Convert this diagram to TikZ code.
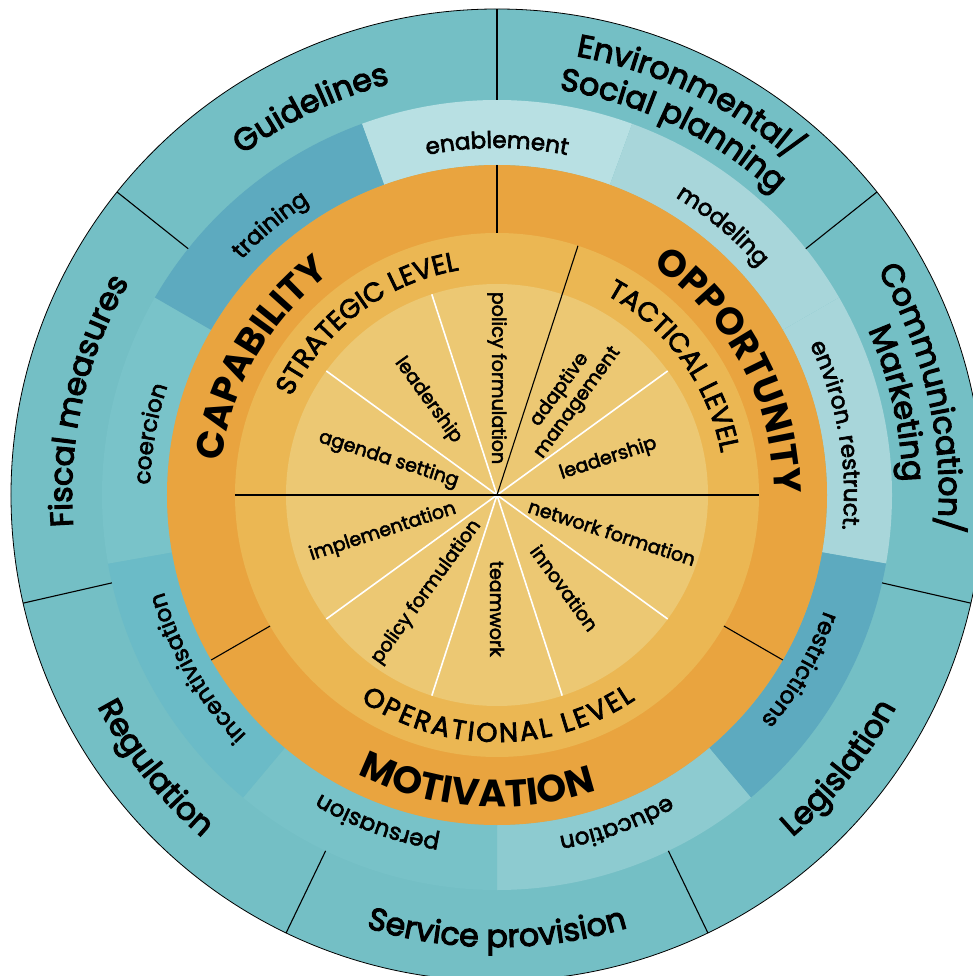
\documentclass[tikz,border=0pt]{standalone}
\usepackage{fontspec}
\setmainfont{Poppins}
\newfontfamily\medfont{Poppins}[FakeBold=3.5]
\newfontfamily\semifont{Poppins}[FakeBold=2.8]
\usetikzlibrary{decorations.text}

\definecolor{outerteal}{HTML}{74BFC5}
\definecolor{enablecol}{HTML}{B8E0E3}
\definecolor{modelcol}{HTML}{A8D6DA}
\definecolor{trainingcol}{HTML}{5DAABF}
\definecolor{coercecol}{HTML}{79C3C9}
\definecolor{incentcol}{HTML}{6BBBC7}
\definecolor{persuadecol}{HTML}{78C2C8}
\definecolor{educol}{HTML}{8DCBD0}
\definecolor{comborange}{HTML}{E9A43F}
\definecolor{levelcol}{HTML}{EBB753}
\definecolor{innercol}{HTML}{ECC873}

\tikzstyle{divider} = [black, line width=1.1pt]
\tikzstyle{spoke} = [white, line width=1.6pt]
\tikzstyle{inlabel} = [font=\semifont\fontsize{19}{22}\selectfont, inner sep=0pt, align=center]

\newcommand{\outerfont}{\medfont\fontsize{31.5}{31.5}\selectfont}
\newcommand{\midfont}{\semifont\fontsize{23}{23}\selectfont}
\newcommand{\combfont}{\fontsize{38}{38}\selectfont\bfseries}
\newcommand{\levelfont}{\semifont\fontsize{27}{27}\selectfont}

% ring piece: colour, start angle, end angle, inner radius, outer radius
\newcommand{\ringpart}[5]{\fill[#1] (#2:#4) arc[start angle=#2, end angle=#3, radius=#4] -- (#3:#5) arc[start angle=#3, end angle=#2, radius=#5] -- cycle;}
% curved labels: mid angle, baseline radius, font, text
\newcommand{\cwlabel}[4]{\path[decorate, decoration={text along path, text align=center, text={|#3|#4}}] (#1+70:#2) arc[start angle=#1+70, end angle=#1-70, radius=#2];}
\newcommand{\ccwlabel}[4]{\path[decorate, decoration={text along path, text align=center, text={|#3|#4}}] (#1-70:#2) arc[start angle=#1-70, end angle=#1+70, radius=#2];}

\begin{document}
\begin{tikzpicture}
        \useasboundingbox (-497pt,-481pt) rectangle (476pt,495pt);
        \clip (-497pt,-481pt) rectangle (476pt,495pt);
        \coordinate (hub) at (0,0);

        % Rings
        \draw[black, line width=0.8pt, fill=outerteal] (hub) circle[radius=486pt];
        \ringpart{enablecol}{70}{110}{330pt}{395pt}
        \ringpart{modelcol}{30}{70}{330pt}{395pt}
        \ringpart{modelcol}{-10}{30}{330pt}{395pt}
        \ringpart{trainingcol}{-50}{-10}{330pt}{395pt}
        \ringpart{educol}{-90}{-50}{330pt}{395pt}
        \ringpart{persuadecol}{-130}{-90}{330pt}{395pt}
        \ringpart{incentcol}{-170}{-130}{330pt}{395pt}
        \ringpart{coercecol}{150}{190}{330pt}{395pt}
        \ringpart{trainingcol}{110}{150}{330pt}{395pt}
        \fill[comborange] (hub) circle[radius=330pt];
        \fill[levelcol] (hub) circle[radius=262pt];
        \fill[innercol] (hub) circle[radius=211pt];

        % Lines
        \foreach \a in {36,108,144,216,252,288,324}
            \draw[spoke] (hub) -- (\a:211pt);
        \draw[divider] (180:262pt) -- (0:262pt);
        \draw[divider] (hub) -- (72:262pt);
        \foreach \a in {90,-30,210}
            \draw[divider] (\a:262pt) -- (\a:330pt);
        \foreach \k in {0,...,6}
            \draw[divider] (90+\k*360/7:395pt) -- (90+\k*360/7:486pt);

        % Outer labels
        \cwlabel{115.7}{425pt}{\outerfont}{Guidelines}
        \cwlabel{167.1}{425pt}{\outerfont}{Fiscal measures}
        \cwlabel{64.3}{446pt}{\outerfont}{Environmental/}
        \cwlabel{64.3}{410pt}{\outerfont}{Social planning}
        \cwlabel{12.9}{442pt}{\outerfont}{Communication/}
        \cwlabel{12.9}{406pt}{\outerfont}{Marketing}
        \ccwlabel{218.6}{452pt}{\outerfont}{Regulation}
        \ccwlabel{270}{452pt}{\outerfont}{Service provision}
        \ccwlabel{321.4}{452pt}{\outerfont}{Legislation}

        % Middle labels
        \cwlabel{90}{347pt}{\midfont}{enablement}
        \cwlabel{50}{347pt}{\midfont}{modeling}
        \cwlabel{10}{347pt}{\midfont}{environ. restruct.}
        \cwlabel{-30}{347pt}{\midfont}{restrictions}
        \cwlabel{-70}{347pt}{\midfont}{education}
        \cwlabel{-110}{347pt}{\midfont}{persuasion}
        \cwlabel{-150}{347pt}{\midfont}{incentivisation}
        \cwlabel{170}{347pt}{\midfont}{coercion}
        \cwlabel{130}{347pt}{\midfont}{training}

        % COM-B labels
        \cwlabel{150}{277pt}{\combfont}{CAPABILITY}
        \cwlabel{28}{277pt}{\combfont}{OPPORTUNITY}
        \ccwlabel{266}{312pt}{\combfont}{MOTIVATION}

        % Level labels
        \cwlabel{127}{228pt}{\levelfont}{STRATEGIC LEVEL}
        \cwlabel{36}{228pt}{\levelfont}{TACTICAL LEVEL}
        \ccwlabel{270}{247pt}{\levelfont\kern2.4pt}{OPERATIONAL LEVEL}

        % Inner labels
        \node[inlabel, rotate=-90] (stratpolicy) at (90:117pt) {policy formulation};
        \node[inlabel, rotate=-54] (stratlead) at (126:117pt) {leadership};
        \node[inlabel, rotate=-18] (agenda) at (162:114pt) {agenda setting};
        \node[inlabel, rotate=54] (adaptive) at (54:122pt) {adaptive\\management};
        \node[inlabel, rotate=18] (taclead) at (18:117pt) {leadership};
        \node[inlabel, rotate=18] (implement) at (198:120pt) {implementation};
        \node[inlabel, rotate=54] (oppolicy) at (234:120pt) {policy formulation};
        \node[inlabel, rotate=-90] (teamwork) at (270:114pt) {teamwork};
        \node[inlabel, rotate=-54] (innovation) at (306:115pt) {innovation};
        \node[inlabel, rotate=-18] (network) at (342:121pt) {network formation};
    \end{tikzpicture}
\end{document}
